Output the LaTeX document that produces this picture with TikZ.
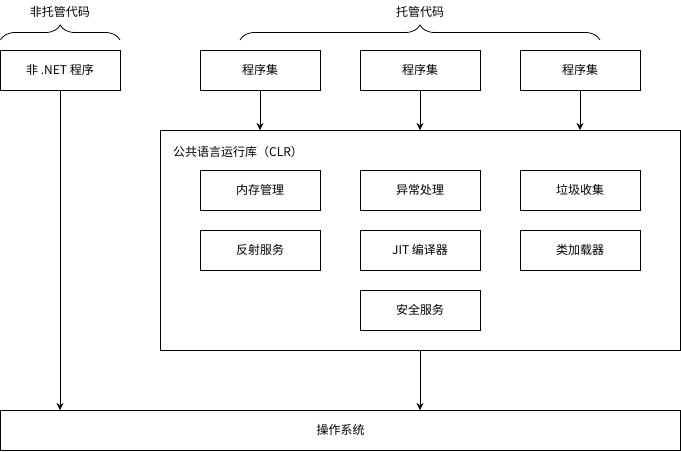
\documentclass[tikz,border=0pt]{standalone}
\usepackage{fontspec}
\setmainfont{Noto Sans CJK SC}
\usepackage{tikz}
\usetikzlibrary{arrows.meta,%
                decorations.pathreplacing}

\tikzset{box/.style={draw, line width=1pt, minimum width=120pt, minimum height=40pt,
                     inner sep=0pt, outer sep=0pt, font=\fontsize{12pt}{14pt}\selectfont},
         lbl/.style={inner sep=0pt, font=\fontsize{12pt}{14pt}\selectfont},
         arr/.style={line width=1pt, -{Stealth[length=7pt,width=7pt]}},
         brc/.style={decorate, decoration={brace, amplitude=15pt}, line width=0.8pt}}

\begin{document}
\begin{tikzpicture}[x=1pt,y=-1pt]
\useasboundingbox (0,0) rectangle (681,451);
\node[box] (P) at (60,70) {非 .NET 程序};
\node[box] (A1) at (260,70) {程序集};
\node[box] (A2) at (420,70) {程序集};
\node[box] (A3) at (580,70) {程序集};
\node[box, minimum width=520pt, minimum height=220pt] (CLR) at (420,240) {};
\node[lbl, anchor=west] (CLRL) at (173,152) {公共语言运行库（CLR）};
\node[box] (M1) at (260,190) {内存管理};
\node[box] (M2) at (420,190) {异常处理};
\node[box] (M3) at (580,190) {垃圾收集};
\node[box] (R1) at (260,250) {反射服务};
\node[box] (R2) at (420,250) {JIT 编译器};
\node[box] (R3) at (580,250) {类加载器};
\node[box] (S) at (420,310) {安全服务};
\node[box, minimum width=680pt] (OS) at (340.5,430) {操作系统};
\coordinate (B1) at (0.5,40);
\coordinate (B2) at (120,40);
\coordinate (B3) at (240,40);
\coordinate (B4) at (600,40);
\draw[brc] (B1) -- (B2);
\draw[brc] (B3) -- (B4);
\node[lbl] (UL) at (60,12) {非托管代码};
\node[lbl] (ML) at (420,12) {托管代码};
\draw[arr] (P) -- (P |- OS.north);
\draw[arr] (A1) -- (A1 |- CLR.north);
\draw[arr] (A2) -- (A2 |- CLR.north);
\draw[arr] (A3) -- (A3 |- CLR.north);
\draw[arr] (CLR.south) -- (CLR.south |- OS.north);
\end{tikzpicture}
\end{document}
